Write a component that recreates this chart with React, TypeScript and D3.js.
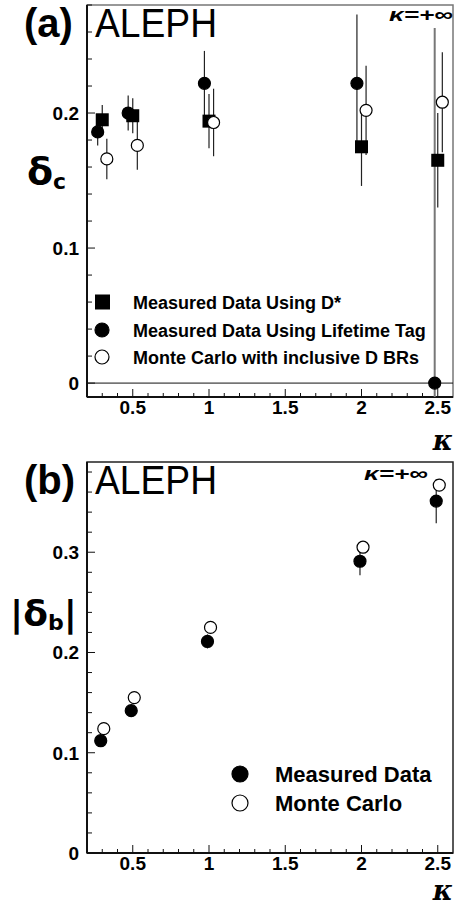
import React, { useEffect, useRef } from 'react';
import * as d3 from 'd3';

// kappa axis
const kappaTicks = [0.5, 1, 1.5, 2, 2.5];
const kappaTickLabels = ['0.5', '1', '1.5', '2', '2.5'];

// panel (a): delta_c
const dstarK = [0.3, 0.5, 1.0, 2.0, 2.5];
const dstarVal = [0.195, 0.198, 0.194, 0.175, 0.165];
const dstarErr = [0.011, 0.013, 0.02, 0.029, 0.035];

const lifeK = [0.27, 0.47, 0.97, 1.97, 2.48];
const lifeVal = [0.186, 0.2, 0.222, 0.222, 0.0];
const lifeErr = [0.01, 0.013, 0.024, 0.051, 0.263];

const mcCK = [0.33, 0.53, 1.03, 2.03, 2.53];
const mcCVal = [0.166, 0.176, 0.193, 0.202, 0.208];
const mcCErr = [0.015, 0.018, 0.025, 0.033, 0.037];

const yTicksA = [0, 0.1, 0.2];
const yTickLabelsA = ['0', '0.1', '0.2'];
const legendA = ['Measured Data Using D*', 'Measured Data Using Lifetime Tag', 'Monte Carlo with inclusive D BRs'];

// panel (b): |delta_b|
const dataBK = [0.29, 0.49, 0.99, 1.99, 2.49];
const dataBVal = [0.112, 0.142, 0.211, 0.291, 0.351];
const dataBErr = [0.004, 0.004, 0.007, 0.014, 0.022];

const mcBK = [0.31, 0.51, 1.01, 2.01, 2.51];
const mcBVal = [0.124, 0.155, 0.225, 0.305, 0.367];
const mcBErr = [0.002, 0.002, 0.002, 0.003, 0.005];

const yTicksB = [0, 0.1, 0.2, 0.3];
const yTickLabelsB = ['0', '0.1', '0.2', '0.3'];
const legendB = ['Measured Data', 'Monte Carlo'];

const FONT = '"Liberation Sans", Arial, sans-serif';

const App = () => {
  const ref = useRef<SVGSVGElement>(null);

  useEffect(() => {
    const svg = d3.select(ref.current);
    svg.selectAll('*').remove();

    const left = 87;
    const right = 453;

    const drawPanel = (opts: any) => {
      const { top, bottom, yDomain, yTicks, yTickLabels, id } = opts;
      const x = d3.scaleLinear().domain([0.2, 2.6]).range([left, right]);
      const y = d3.scaleLinear().domain(yDomain).range([bottom, top]);
      const g = svg.append('g');

      g.append('clipPath')
        .attr('id', id)
        .append('rect')
        .attr('x', left)
        .attr('y', top)
        .attr('width', right - left)
        .attr('height', bottom - top);

      // frame
      g.append('rect')
        .attr('x', left)
        .attr('y', top)
        .attr('width', right - left)
        .attr('height', bottom - top)
        .attr('fill', 'none')
        .attr('stroke', opts.frameColor)
        .attr('stroke-width', 1.5);
      g.append('line')
        .attr('x1', left).attr('x2', left)
        .attr('y1', top).attr('y2', bottom)
        .attr('stroke', '#111').attr('stroke-width', 2);
      g.append('line')
        .attr('x1', left).attr('x2', right)
        .attr('y1', bottom).attr('y2', bottom)
        .attr('stroke', '#111').attr('stroke-width', 2);

      // y ticks: minor every 0.02
      const yMinor = d3.range(Math.ceil(yDomain[0] / 0.02) * 0.02, yDomain[1], 0.02);
      g.selectAll('.ytick')
        .data(yMinor)
        .enter()
        .append('line')
        .attr('x1', left)
        .attr('x2', (d) => (Math.abs(d * 10 - Math.round(d * 10)) < 1e-6 ? left + 8 : left + 5))
        .attr('y1', (d) => y(d))
        .attr('y2', (d) => y(d))
        .attr('stroke', '#111')
        .attr('stroke-width', 1);

      g.selectAll('.ylab')
        .data(yTicks)
        .enter()
        .append('text')
        .attr('x', left - 8)
        .attr('y', (d) => y(d) + 7)
        .attr('text-anchor', 'end')
        .attr('font-family', FONT)
        .attr('font-weight', 'bold')
        .attr('font-size', 19)
        .text((d, i) => yTickLabels[i]);

      // x ticks: minor every 0.1
      const xMinor = d3.range(3, 26).map((d) => d / 10);
      g.selectAll('.xtick')
        .data(xMinor)
        .enter()
        .append('line')
        .attr('x1', (d) => x(d))
        .attr('x2', (d) => x(d))
        .attr('y1', bottom)
        .attr('y2', (d) => (Math.abs(d * 2 - Math.round(d * 2)) < 1e-6 ? bottom - 8 : bottom - 4))
        .attr('stroke', '#111')
        .attr('stroke-width', 1);

      g.selectAll('.xlab')
        .data(kappaTicks)
        .enter()
        .append('text')
        .attr('x', (d) => x(d))
        .attr('y', bottom + 17)
        .attr('text-anchor', 'middle')
        .attr('font-family', FONT)
        .attr('font-weight', 'bold')
        .attr('font-size', 19)
        .text((d, i) => kappaTickLabels[i]);

      // kappa axis title
      g.append('text')
        .attr('x', 453)
        .attr('y', opts.kappaY)
        .attr('text-anchor', 'end')
        .attr('font-family', '"DejaVu Serif", serif')
        .attr('font-style', 'italic')
        .attr('font-weight', 'bold')
        .attr('font-size', 27)
        .text('κ');

      // panel tag and ALEPH
      g.append('text')
        .attr('x', 24)
        .attr('y', top + 32)
        .attr('font-family', FONT)
        .attr('font-weight', 'bold')
        .attr('font-size', 40)
        .text(opts.tag);
      g.append('text')
        .attr('x', 95)
        .attr('y', top + 32)
        .attr('font-family', FONT)
        .attr('font-size', 40)
        .attr('textLength', 122)
        .attr('lengthAdjust', 'spacingAndGlyphs')
        .text('ALEPH');

      g.append('text')
        .attr('x', opts.infX - 64)
        .attr('y', opts.infY)
        .attr('font-family', FONT)
        .attr('font-weight', 'bold')
        .attr('font-style', 'italic')
        .attr('font-size', 19)
        .attr('textLength', 64)
        .attr('lengthAdjust', 'spacingAndGlyphs')
        .text('κ=+∞');

      return { g, x, y };
    };

    const errorBars = (g: any, x: any, y: any, ks: number[], vals: number[], errs: number[], clip: string) => {
      g.append('g')
        .attr('clip-path', `url(#${clip})`)
        .selectAll('line')
        .data(ks)
        .enter()
        .append('line')
        .attr('x1', (d: number) => x(d))
        .attr('x2', (d: number) => x(d))
        .attr('y1', (d: number, i: number) => y(vals[i] - errs[i]))
        .attr('y2', (d: number, i: number) => y(vals[i] + errs[i]))
        .attr('stroke', (d: number, i: number) => (errs[i] > 0.2 ? '#777' : '#222'))
        .attr('stroke-width', (d: number, i: number) => (errs[i] > 0.2 ? 2 : 1.2));
    };

    const circles = (g: any, x: any, y: any, ks: number[], vals: number[], filled: boolean, r: number) => {
      g.append('g')
        .selectAll('circle')
        .data(ks)
        .enter()
        .append('circle')
        .attr('cx', (d: number) => x(d))
        .attr('cy', (d: number, i: number) => y(vals[i]))
        .attr('r', r)
        .attr('fill', filled ? '#000' : '#fff')
        .attr('stroke', '#000')
        .attr('stroke-width', 1.2);
    };

    // ---- panel (a)
    const a = drawPanel({
      id: 'clipA',
      top: 5,
      bottom: 397,
      yDomain: [-0.0103, 0.28],
      yTicks: yTicksA,
      yTickLabels: yTickLabelsA,
      tag: '(a)',
      frameColor: '#777',
      infX: 453,
      infY: 21,
      kappaY: 450,
    });

    a.g.append('line')
      .attr('x1', left)
      .attr('x2', right)
      .attr('y1', a.y(0))
      .attr('y2', a.y(0))
      .attr('stroke', '#111')
      .attr('stroke-width', 1);

    errorBars(a.g, a.x, a.y, dstarK, dstarVal, dstarErr, 'clipA');
    errorBars(a.g, a.x, a.y, lifeK, lifeVal, lifeErr, 'clipA');
    errorBars(a.g, a.x, a.y, mcCK, mcCVal, mcCErr, 'clipA');

    circles(a.g, a.x, a.y, lifeK, lifeVal, true, 6);
    a.g.append('g')
      .selectAll('rect')
      .data(dstarK)
      .enter()
      .append('rect')
      .attr('x', (d) => a.x(d) - 6.5)
      .attr('y', (d, i) => a.y(dstarVal[i]) - 6.5)
      .attr('width', 13)
      .attr('height', 13)
      .attr('fill', '#000');
    circles(a.g, a.x, a.y, mcCK, mcCVal, false, 6);

    // legend (a)
    const legA = a.g.append('g');
    const legAY = [302, 330, 357];
    legendA.forEach((label, i) => {
      if (i === 0) {
        legA.append('rect').attr('x', 95).attr('y', legAY[i] - 7.5).attr('width', 15).attr('height', 15).attr('fill', '#000');
      } else {
        legA.append('circle')
          .attr('cx', 102)
          .attr('cy', legAY[i])
          .attr('r', 7)
          .attr('fill', i === 1 ? '#000' : '#fff')
          .attr('stroke', '#000')
          .attr('stroke-width', 1.2);
      }
      legA.append('text')
        .attr('x', 133)
        .attr('y', legAY[i] + 6.5)
        .attr('font-family', FONT)
        .attr('font-weight', 'bold')
        .attr('font-size', 18)
        .text(label);
    });

    // y title (a)
    const ta = svg.append('text')
      .attr('x', 27)
      .attr('y', 184)
      .attr('font-family', '"DejaVu Sans", sans-serif')
      .attr('font-weight', 'bold')
      .attr('font-size', 38);
    ta.append('tspan').text('δ');
    ta.append('tspan').attr('font-size', 22).attr('dy', 5).text('c');

    // ---- panel (b)
    const b = drawPanel({
      id: 'clipB',
      top: 462,
      bottom: 853,
      yDomain: [0, 0.39],
      yTicks: yTicksB,
      yTickLabels: yTickLabelsB,
      tag: '(b)',
      frameColor: '#222',
      infX: 428,
      infY: 480,
      kappaY: 900,
    });

    errorBars(b.g, b.x, b.y, dataBK, dataBVal, dataBErr, 'clipB');
    errorBars(b.g, b.x, b.y, mcBK, mcBVal, mcBErr, 'clipB');
    circles(b.g, b.x, b.y, dataBK, dataBVal, true, 6);
    circles(b.g, b.x, b.y, mcBK, mcBVal, false, 6);

    const legB = b.g.append('g');
    const legBY = [774, 803];
    legendB.forEach((label, i) => {
      legB.append('circle')
        .attr('cx', 240)
        .attr('cy', legBY[i])
        .attr('r', 8)
        .attr('fill', i === 0 ? '#000' : '#fff')
        .attr('stroke', '#000')
        .attr('stroke-width', 1.2);
      legB.append('text')
        .attr('x', 275)
        .attr('y', legBY[i] + 8)
        .attr('font-family', FONT)
        .attr('font-weight', 'bold')
        .attr('font-size', 22)
        .text(label);
    });

    const tb = svg.append('text')
      .attr('x', 10)
      .attr('y', 626)
      .attr('font-family', '"DejaVu Sans", sans-serif')
      .attr('font-weight', 'bold')
      .attr('font-size', 36);
    tb.append('tspan').text('|δ');
    tb.append('tspan').attr('font-size', 22).attr('dy', 4).text('b');
    tb.append('tspan').attr('dy', -4).text('|');
  }, []);

  return (
    <svg
      ref={ref}
      width={455}
      height={907}
      style={{ position: 'absolute', left: 0, top: 0, background: '#fff' }}
    />
  );
};

export default App;
